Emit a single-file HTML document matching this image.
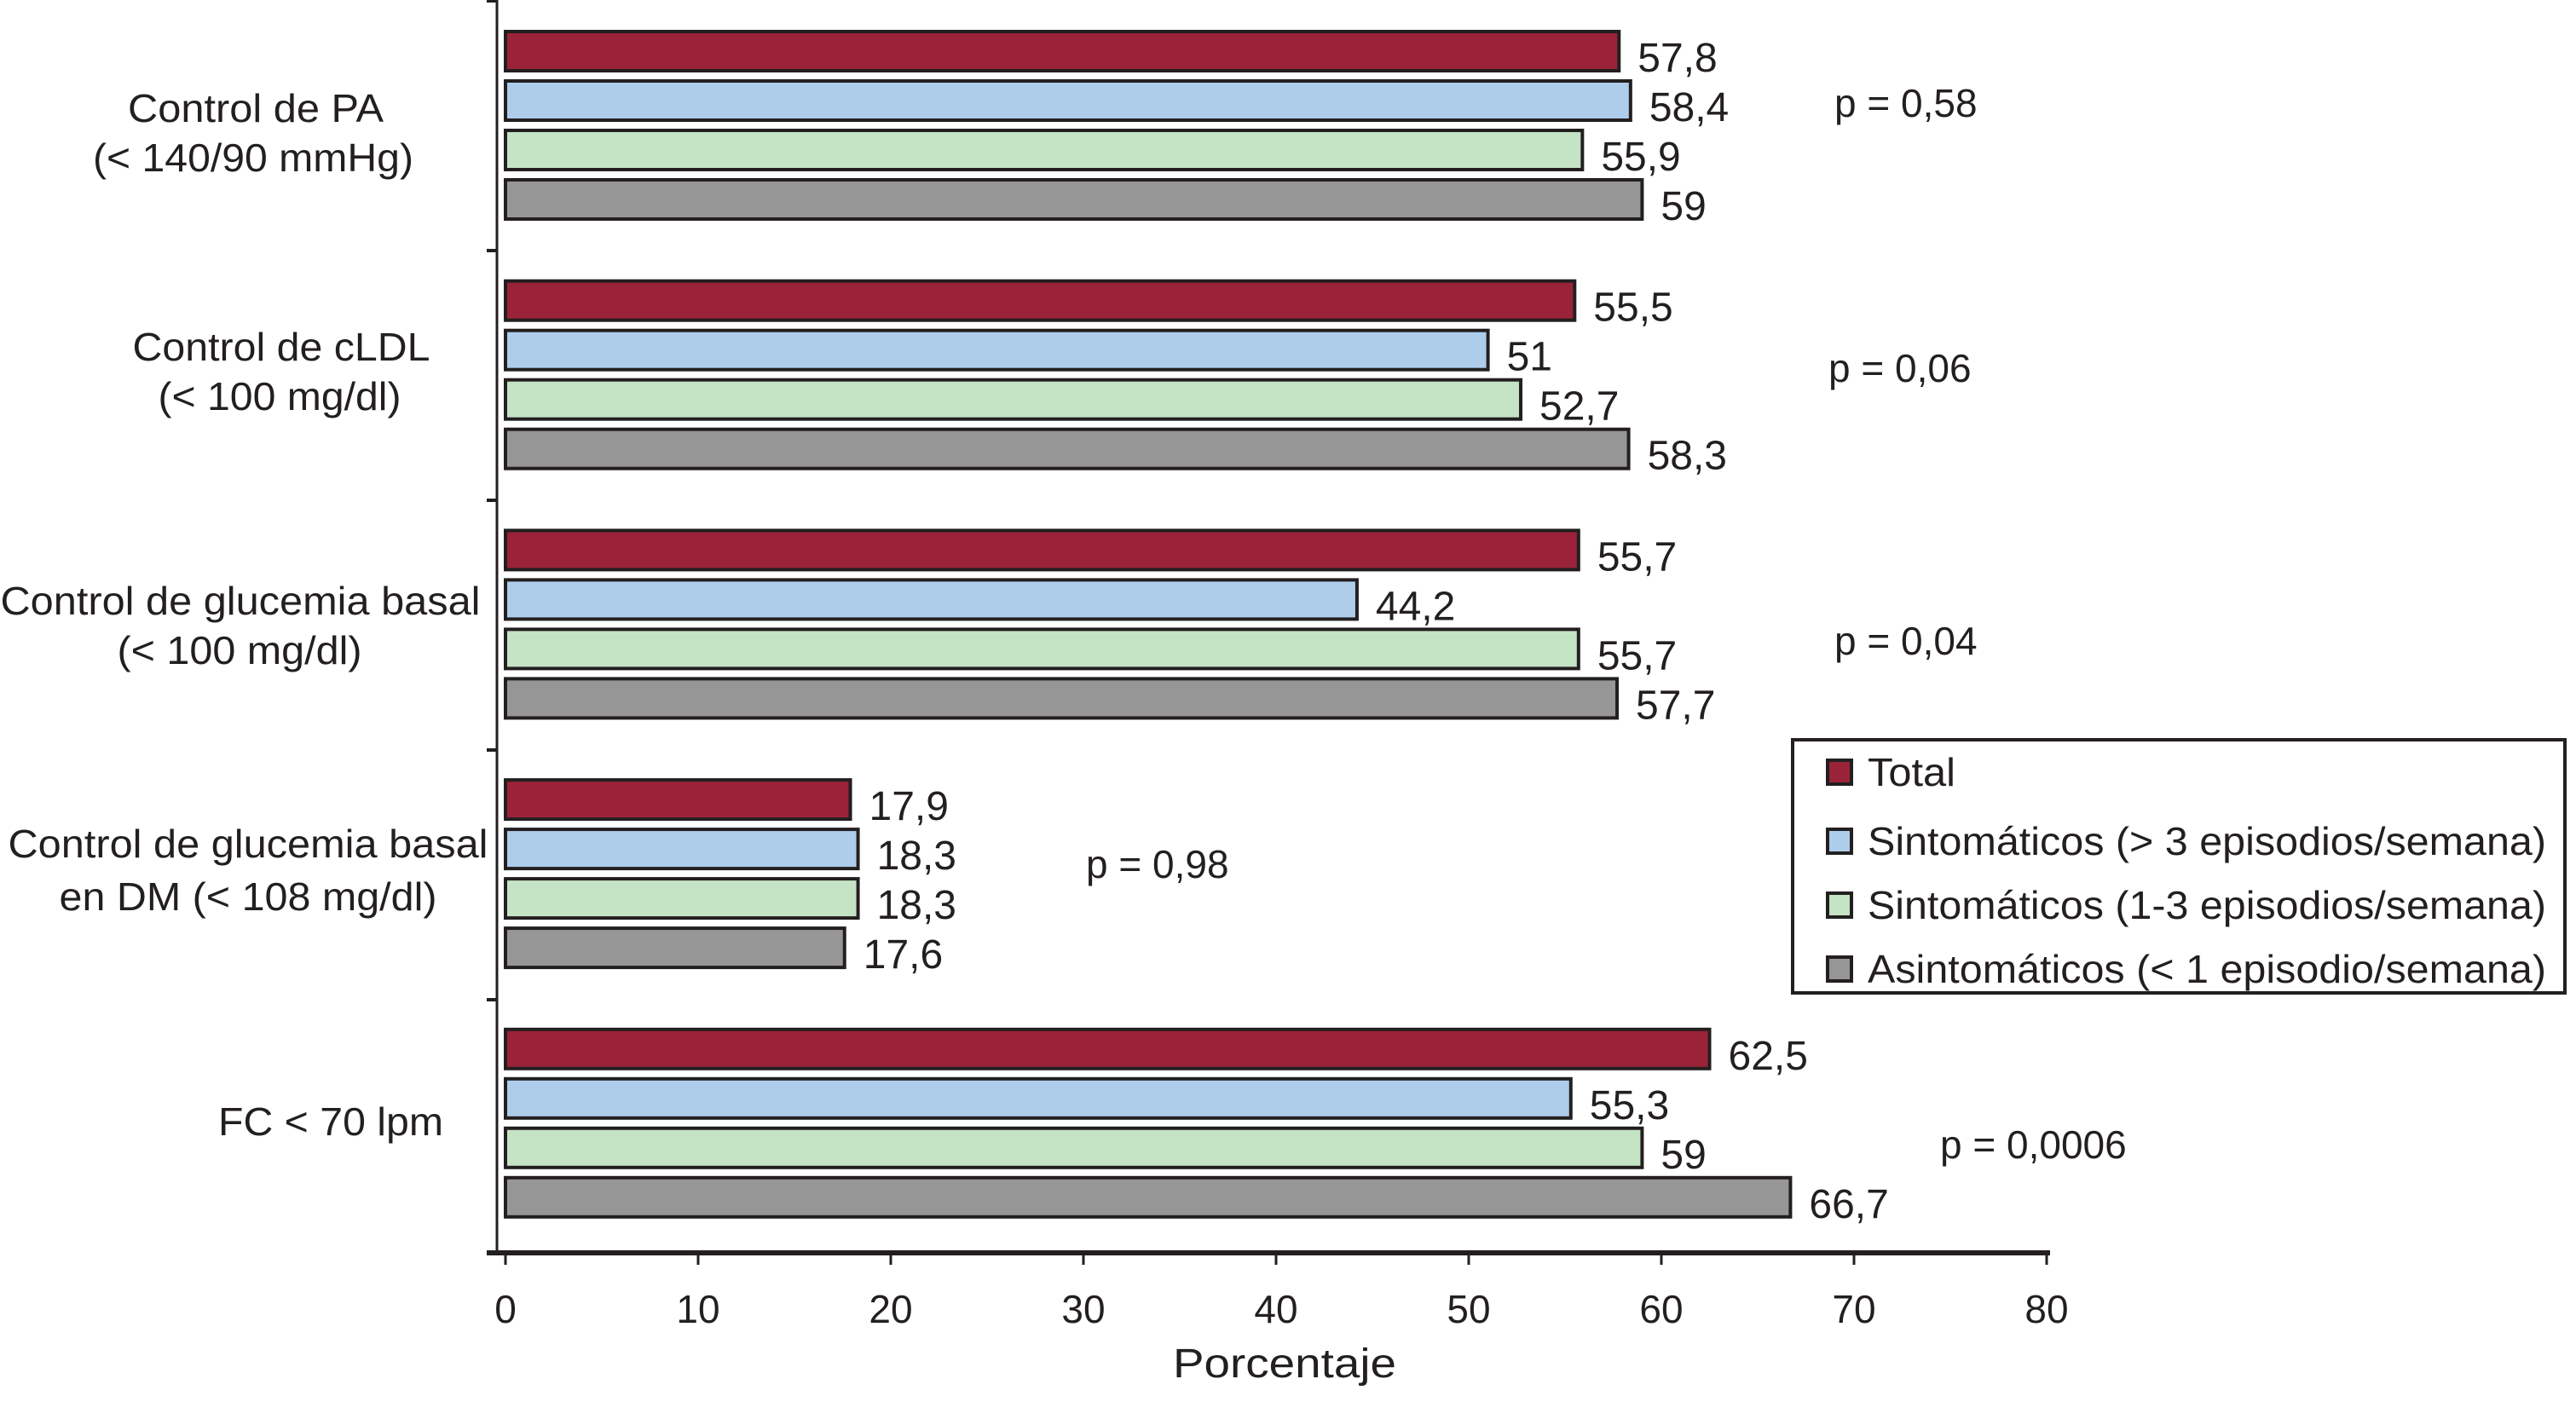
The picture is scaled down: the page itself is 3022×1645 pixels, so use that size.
<!DOCTYPE html>
<html><head><meta charset="utf-8"><style>
html,body{margin:0;padding:0;background:#fff;}
svg{display:block;font-family:"Liberation Sans",Arial,sans-serif;}
</style></head><body>
<svg id="chart" width="3022" height="1645" viewBox="0 0 3022 1645" xmlns="http://www.w3.org/2000/svg">
<g id="cat-labels" font-size="46" fill="#231f20" text-anchor="middle">
<text x="300" y="143" textLength="300" lengthAdjust="spacingAndGlyphs">Control de PA</text>
<text x="297" y="201" textLength="376" lengthAdjust="spacingAndGlyphs">(&lt; 140/90 mmHg)</text>
<text x="330" y="423" textLength="349" lengthAdjust="spacingAndGlyphs">Control de cLDL</text>
<text x="328" y="481" textLength="285" lengthAdjust="spacingAndGlyphs">(&lt; 100 mg/dl)</text>
<text x="282" y="721" textLength="563" lengthAdjust="spacingAndGlyphs">Control de glucemia basal</text>
<text x="281" y="779" textLength="287" lengthAdjust="spacingAndGlyphs">(&lt; 100 mg/dl)</text>
<text x="291" y="1006" textLength="563" lengthAdjust="spacingAndGlyphs">Control de glucemia basal</text>
<text x="291" y="1068" textLength="443" lengthAdjust="spacingAndGlyphs">en DM (&lt; 108 mg/dl)</text>
<text x="388" y="1332" textLength="264" lengthAdjust="spacingAndGlyphs">FC &lt; 70 lpm</text>
</g>
<g id="bars"></g>
<g id="axes"></g>
<g id="pvals" font-size="46" fill="#231f20"></g>
<text x="1507" y="1616" font-size="48" text-anchor="middle" fill="#231f20" textLength="262" lengthAdjust="spacingAndGlyphs">Porcentaje</text>
<g>
<rect x="2103" y="868" width="906" height="297" fill="#fff" stroke="#231f20" stroke-width="4"/>
<g id="legend-entries" font-size="46" fill="#231f20"></g>
</g>
</svg>
<script>
const categories = ["Control de PA", "Control de cLDL", "Control de glucemia basal", "Control de glucemia basal en DM", "FC < 70 lpm"];
const seriesNames = ["Total", "Sintomáticos (> 3 episodios/semana)", "Sintomáticos (1-3 episodios/semana)", "Asintomáticos (< 1 episodio/semana)"];
const totalValues = [57.8, 55.5, 55.7, 17.9, 62.5];
const sint3Values = [58.4, 51, 44.2, 18.3, 55.3];
const sint13Values = [55.9, 52.7, 55.7, 18.3, 59];
const asintValues = [59, 58.3, 57.7, 17.6, 66.7];
const pLabels = ["p = 0,58", "p = 0,06", "p = 0,04", "p = 0,98", "p = 0,0006"];
const xTicks = [0, 10, 20, 30, 40, 50, 60, 70, 80];

const NS = "http://www.w3.org/2000/svg";
const colors = ["#9b2339", "#aecdeb", "#c5e3c5", "#969696"];
const series = [totalValues, sint3Values, sint13Values, asintValues];
const x0 = 593, x1 = 2401, xmax = 80;
const xs = v => x0 + (x1 - x0) * v / xmax;
const groupTop = i => 37 + i * 292.7;
const barPitch = 58, barH = 46;
const pPos = [[2152,121],[2145,432],[2152,752],[1274,1014],[2276,1343]];

function mk(tag, attrs, parent) {
  const e = document.createElementNS(NS, tag);
  for (const k in attrs) e.setAttribute(k, attrs[k]);
  parent.appendChild(e);
  return e;
}
const barsG = document.getElementById('bars');
categories.forEach((c, i) => {
  series.forEach((s, j) => {
    const y = groupTop(i) + j * barPitch;
    const r = mk('rect', {x: xs(0), y: y, width: xs(s[i]) - xs(0), height: barH, fill: colors[j], stroke: '#231f20', 'stroke-width': 4}, barsG);
    
    
    const t = mk('text', {x: xs(s[i]) + 22, y: y + barH / 2 + 24, 'font-size': 48, fill: '#231f20'}, barsG);
    t.textContent = String(s[i]).replace('.', ',');
    
    
  });
});
const axG = document.getElementById('axes');
const ya = mk('line', {x1: x0 - 10, y1: 0, x2: x0 - 10, y2: 1470, stroke: '#231f20', 'stroke-width': 3}, axG);


for (let i = 0; i <= categories.length; i++) {
  const yy = i === categories.length ? 1470 : i * 293;
  const tk = mk('line', {x1: x0 - 22, y1: yy + 1, x2: x0 - 10, y2: yy + 1, stroke: '#231f20', 'stroke-width': 4}, axG);
  
  
}
const xa = mk('line', {x1: x0 - 22, y1: 1470, x2: x1 + 4, y2: 1470, stroke: '#231f20', 'stroke-width': 6}, axG);


xTicks.forEach(v => {
  const tk = mk('line', {x1: xs(v), y1: 1470, x2: xs(v), y2: 1484, stroke: '#231f20', 'stroke-width': 3}, axG);
  
  
  const t = mk('text', {x: xs(v), y: 1552, 'font-size': 46, 'text-anchor': 'middle', fill: '#231f20'}, axG);
  t.textContent = v;
  
  
});
const pG = document.getElementById('pvals');
pLabels.forEach((p, i) => {
  const t = mk('text', {x: pPos[i][0], y: pPos[i][1] + 16}, pG);
  t.textContent = p;
  
  
});
const lG = document.getElementById('legend-entries');
const legY = [906, 987, 1062, 1137];
const legW = [103, 796, 796, 796];
seriesNames.forEach((n, j) => {
  const sq = mk('rect', {x: 2144, y: legY[j] - 14, width: 28, height: 28, fill: colors[j], stroke: '#231f20', 'stroke-width': 4}, lG);
  
  
  const t = mk('text', {x: 2191, y: legY[j] + 16, textLength: legW[j], lengthAdjust: 'spacingAndGlyphs'}, lG);
  t.textContent = n;
  
  
});
</script>
</body></html>
